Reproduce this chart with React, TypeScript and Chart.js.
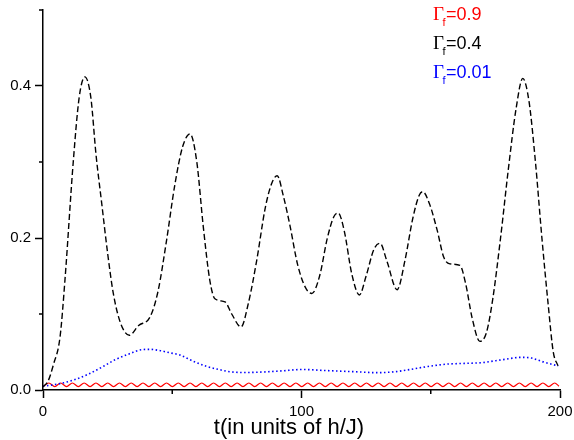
import React, { useEffect, useRef } from 'react';
import { Chart, registerables } from 'chart.js';
Chart.register(...registerables);

const FONT = "'Liberation Sans', Arial, sans-serif";

// Γf = 0.4 (black dashed)
const blackT = [0, 2, 4, 6.6, 8.5, 11.7, 14, 16.2, 18.5, 20.5, 22.7, 25, 27.2, 30, 33.4, 37, 41.4, 44.5, 47.8, 51, 54, 56.9, 59.5, 62, 64.5, 66.5, 70.4, 73, 76.6, 79.5, 82.7, 86, 88.5, 90.6, 93, 95.5, 98.5, 101.5, 104, 107, 110, 112.5, 114.2, 116.5, 119.5, 122.4, 125, 128, 130.4, 133, 137, 140, 143, 145.5, 146.9, 149.5, 152.5, 155, 157.4, 161.3, 163.5, 166, 169, 171.5, 174, 177, 180, 183, 185.6, 188, 190.5, 193, 195.5, 197.4, 199.2];
const blackV = [0.004, 0.012, 0.033, 0.07, 0.145, 0.3, 0.385, 0.412, 0.385, 0.31, 0.246, 0.18, 0.127, 0.088, 0.072, 0.085, 0.096, 0.13, 0.197, 0.27, 0.32, 0.337, 0.3, 0.215, 0.145, 0.12, 0.116, 0.1, 0.083, 0.115, 0.171, 0.24, 0.272, 0.282, 0.255, 0.217, 0.165, 0.135, 0.127, 0.15, 0.2, 0.228, 0.233, 0.21, 0.152, 0.125, 0.15, 0.185, 0.193, 0.17, 0.132, 0.17, 0.225, 0.256, 0.261, 0.245, 0.21, 0.175, 0.166, 0.164, 0.14, 0.095, 0.064, 0.075, 0.12, 0.2, 0.29, 0.37, 0.41, 0.38, 0.3, 0.2, 0.11, 0.05, 0.032];

// Γf = 0.01 (blue dotted)
const blueT = [0, 6, 11.7, 17, 23.3, 28, 33.7, 38, 41.4, 45, 49, 53, 58, 63.3, 68, 72.3, 78, 85, 91.7, 100.7, 107, 113.6, 121, 129, 136, 142, 149, 156, 163, 170, 174, 178, 185.2, 189, 193.5, 199.3];
const blueV = [0.005, 0.008, 0.013, 0.02, 0.031, 0.04, 0.048, 0.053, 0.0535, 0.052, 0.049, 0.046, 0.038, 0.031, 0.027, 0.024, 0.023, 0.0237, 0.025, 0.027, 0.026, 0.025, 0.024, 0.0228, 0.024, 0.027, 0.031, 0.034, 0.035, 0.036, 0.038, 0.04, 0.043, 0.042, 0.037, 0.0316];

// Γf = 0.9 (red solid, small oscillation): troughs and crests
const redT = [
  0, 2.28, 4.55, 6.83, 9.1, 11.38, 13.65, 15.93, 18.2, 20.48,
  22.75, 25.03, 27.3, 29.58, 31.85, 34.13, 36.4, 38.68, 40.95, 43.23,
  45.5, 47.78, 50.05, 52.33, 54.6, 56.88, 59.15, 61.43, 63.7, 65.98,
  68.25, 70.53, 72.8, 75.08, 77.35, 79.63, 81.9, 84.18, 86.45, 88.73,
  91, 93.28, 95.55, 97.83, 100.1, 102.38, 104.65, 106.93, 109.2, 111.48,
  113.75, 116.03, 118.3, 120.58, 122.85, 125.13, 127.4, 129.68, 131.95, 134.23,
  136.5, 138.78, 141.05, 143.33, 145.6, 147.88, 150.15, 152.43, 154.7, 156.98,
  159.25, 161.53, 163.8, 166.08, 168.35, 170.63, 172.9, 175.18, 177.45, 179.73,
  182, 184.28, 186.55, 188.83, 191.1, 193.38, 195.65, 197.93, 199.6,
];
const redV = [
  0.0045, 0.0092, 0.0045, 0.0092, 0.0045, 0.0092, 0.0045, 0.0092, 0.0045, 0.0092,
  0.0045, 0.0092, 0.0045, 0.0092, 0.0045, 0.0092, 0.0045, 0.0092, 0.0045, 0.0092,
  0.0045, 0.0092, 0.0045, 0.0092, 0.0045, 0.0092, 0.0045, 0.0092, 0.0045, 0.0092,
  0.0045, 0.0092, 0.0045, 0.0092, 0.0045, 0.0092, 0.0045, 0.0092, 0.0045, 0.0092,
  0.0045, 0.0092, 0.0045, 0.0092, 0.0045, 0.0092, 0.0045, 0.0092, 0.0045, 0.0092,
  0.0045, 0.0092, 0.0045, 0.0092, 0.0045, 0.0092, 0.0045, 0.0092, 0.0045, 0.0092,
  0.0045, 0.0092, 0.0045, 0.0092, 0.0045, 0.0092, 0.0045, 0.0092, 0.0045, 0.0092,
  0.0045, 0.0092, 0.0045, 0.0092, 0.0045, 0.0092, 0.0045, 0.0092, 0.0045, 0.0092,
  0.0045, 0.0092, 0.0045, 0.0092, 0.0045, 0.0092, 0.0045, 0.0092, 0.005,
];

const xMinorTicks = [50, 150];
const yMinorTicks = [0.1, 0.3, 0.5];
const legendValues = ['0.9', '0.4', '0.01'];
const legendColors = ['#ff0000', '#000000', '#0000ff'];
const xTitle = 't(in units of h/J)';

function pts(t: number[], v: number[]) {
  return t.map((x, i) => ({ x, y: v[i] }));
}

const extrasPlugin = {
  id: 'extras',
  afterDraw(chart: any) {
    const ctx = chart.ctx;
    const xs = chart.scales.x;
    const ys = chart.scales.y;
    ctx.save();
    ctx.strokeStyle = '#000';
    ctx.lineWidth = 1.5;
    // minor ticks
    xMinorTicks.forEach((v) => {
      const px = xs.getPixelForValue(v);
      ctx.beginPath();
      ctx.moveTo(px, xs.top);
      ctx.lineTo(px, xs.top + 4);
      ctx.stroke();
    });
    yMinorTicks.forEach((v) => {
      const py = ys.getPixelForValue(v);
      ctx.beginPath();
      ctx.moveTo(ys.right, py);
      ctx.lineTo(ys.right - 4, py);
      ctx.stroke();
    });
    // x title
    ctx.fillStyle = '#000';
    ctx.font = `22px ${FONT}`;
    ctx.textAlign = 'center';
    ctx.textBaseline = 'alphabetic';
    ctx.fillText(xTitle, 289, 434);
    // legend
    ctx.textAlign = 'left';
    legendValues.forEach((val, i) => {
      const base = 20 + i * 29;
      let x = 433;
      ctx.fillStyle = legendColors[i];
      ctx.font = `19px 'Liberation Serif', 'Times New Roman', serif`;
      ctx.fillText('Γ', x, base);
      x += ctx.measureText('Γ').width - 1.5;
      ctx.font = `11px ${FONT}`;
      ctx.fillText('f', x, base + 6);
      x += ctx.measureText('f').width + 0.5;
      ctx.font = `18px ${FONT}`;
      ctx.fillText('=' + val, x, base);
    });
    ctx.restore();
  },
};

export default function App() {
  const ref = useRef<HTMLCanvasElement>(null);
  useEffect(() => {
    if (!ref.current) return;
    const chart = new Chart(ref.current, {
      type: 'line',
      data: {
        datasets: [
          {
            label: 'Γf=0.4',
            data: pts(blackT, blackV),
            borderColor: '#000000',
            borderWidth: 1.4,
            borderDash: [6, 3],
            cubicInterpolationMode: 'monotone',
            pointRadius: 0,
            fill: false,
          },
          {
            label: 'Γf=0.01',
            data: pts(blueT, blueV),
            borderColor: '#0000ff',
            borderWidth: 1.6,
            borderDash: [1.5, 2.5],
            cubicInterpolationMode: 'monotone',
            pointRadius: 0,
            fill: false,
          },
          {
            label: 'Γf=0.9',
            data: pts(redT, redV),
            borderColor: '#ff0000',
            borderWidth: 1.2,
            cubicInterpolationMode: 'monotone',
            pointRadius: 0,
            fill: false,
          },
        ],
      },
      options: {
        animation: false,
        responsive: false,
        layout: { padding: { top: 10, right: 14, left: 0, bottom: 0 } },
        plugins: { legend: { display: false }, tooltip: { enabled: false } },
        scales: {
          x: {
            type: 'linear',
            min: 0,
            max: 200,
            afterFit: (s: any) => {
              s.height = 50;
              s.paddingLeft = 0;
              s.paddingRight = 0;
            },
            grid: { display: true, drawOnChartArea: false, drawTicks: true, tickLength: 8, tickColor: '#000', tickWidth: 1.5 },
            border: { display: true, color: '#000', width: 1.5 },
            ticks: {
              stepSize: 100,
              padding: 5,
              color: '#000',
              font: { family: FONT, size: 15 },
              maxRotation: 0,
              autoSkip: false,
              callback: (v: any) => String(v),
            },
          },
          y: {
            type: 'linear',
            min: 0,
            max: 0.5,
            afterFit: (s: any) => {
              s.width = 43;
              s.paddingTop = 0;
              s.paddingBottom = 0;
            },
            grid: { display: true, drawOnChartArea: false, drawTicks: true, tickLength: 8, tickColor: '#000', tickWidth: 1.5 },
            border: { display: true, color: '#000', width: 1.5 },
            ticks: {
              stepSize: 0.2,
              includeBounds: false,
              padding: 4,
              color: '#000',
              font: { family: FONT, size: 15 },
              callback: (v: any) => Number(v).toFixed(1),
            },
          },
        },
      },
      plugins: [extrasPlugin],
    } as any);
    return () => chart.destroy();
  }, []);
  return (
    <div style={{ position: 'fixed', left: 0, top: 0, width: 574, height: 440, background: '#fff' }}>
      <canvas ref={ref} width={574} height={440} style={{ display: 'block' }} />
    </div>
  );
}
